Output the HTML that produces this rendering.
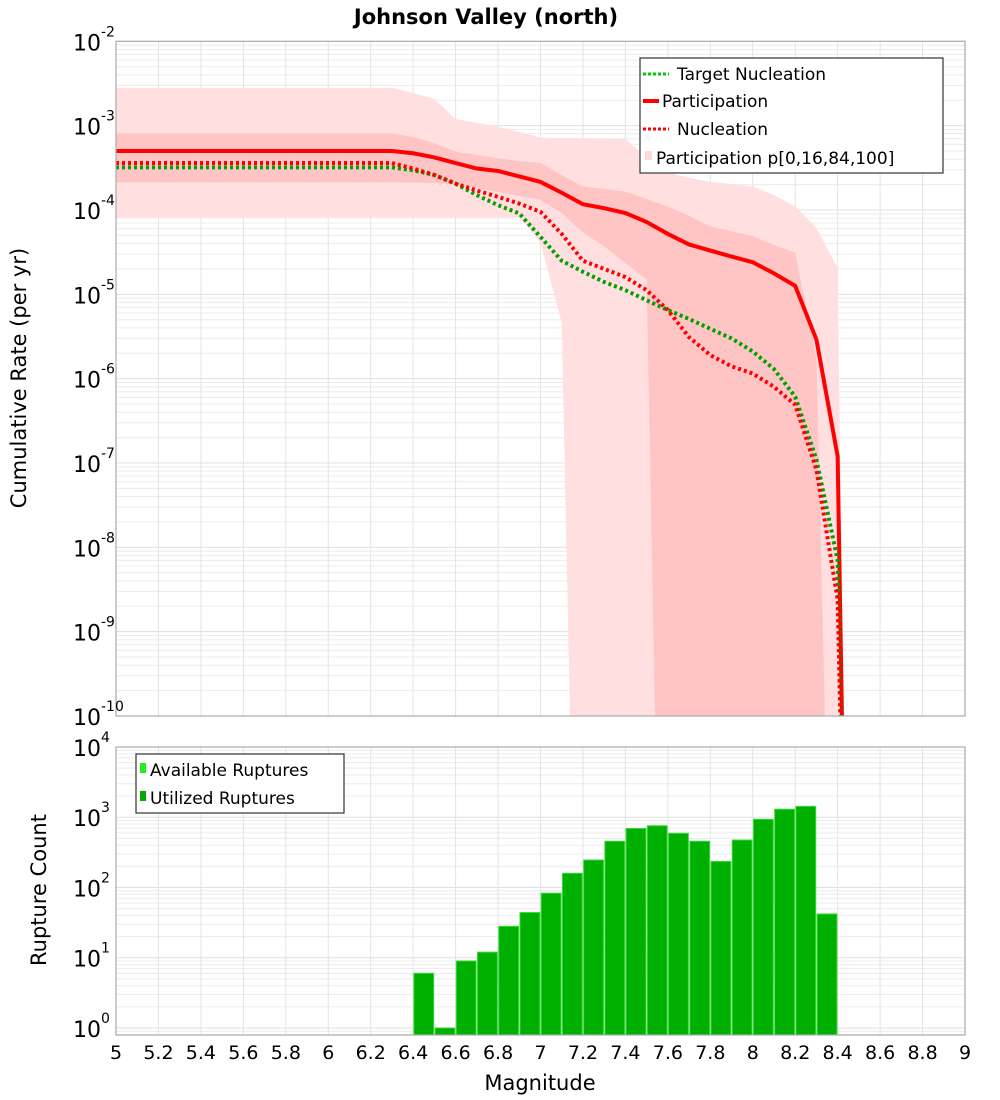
<!DOCTYPE html>
<html><head><meta charset="utf-8"><style>
html,body{margin:0;padding:0;background:#fff;}
svg{display:block;font-family:"DejaVu Sans","Liberation Sans",sans-serif;}
</style></head><body>
<svg id="chart" width="1000" height="1100" viewBox="0 0 1000 1100" xmlns="http://www.w3.org/2000/svg">
<defs>
<clipPath id="clipTop"><rect x="116" y="41.3" width="849" height="674.7"/></clipPath>
<clipPath id="clipBot"><rect x="116" y="747" width="849" height="288"/></clipPath>
</defs>
<text x="486" y="24" text-anchor="middle" font-size="21" font-weight="bold">Johnson Valley (north)</text>
<g id="topPlot"></g>
<g id="botPlot"></g>
<text transform="translate(26,378) rotate(-90)" text-anchor="middle" font-size="21">Cumulative Rate (per yr)</text>
<text transform="translate(46,890) rotate(-90)" text-anchor="middle" font-size="21">Rupture Count</text>
<text x="540" y="1090" text-anchor="middle" font-size="21">Magnitude</text>
</svg>
<script>
// ---- data ----
const mags = [5.0,5.1,5.2,5.3,5.4,5.5,5.6,5.7,5.8,5.9,6.0,6.1,6.2,6.3,6.4,6.5,6.6,6.7,6.8,6.9,7.0,7.1,7.2,7.3,7.4,7.5,7.6,7.7,7.8,7.9,8.0,8.1,8.2,8.3,8.4];
const participation = [5e-4,5e-4,5e-4,5e-4,5e-4,5e-4,5e-4,5e-4,5e-4,5e-4,5e-4,5e-4,5e-4,5e-4,4.7e-4,4.2e-4,3.6e-4,3.1e-4,2.9e-4,2.5e-4,2.15e-4,1.6e-4,1.17e-4,1.05e-4,9.2e-5,7.2e-5,5.2e-5,3.9e-5,3.3e-5,2.8e-5,2.4e-5,1.77e-5,1.26e-5,2.9e-6,1.2e-7];
const nucleation = [3.6e-4,3.6e-4,3.6e-4,3.6e-4,3.6e-4,3.6e-4,3.6e-4,3.6e-4,3.6e-4,3.6e-4,3.6e-4,3.6e-4,3.6e-4,3.6e-4,3.1e-4,2.6e-4,2.05e-4,1.7e-4,1.43e-4,1.19e-4,9.5e-5,5.2e-5,2.5e-5,2.0e-5,1.6e-5,1.12e-5,6.5e-6,3.1e-6,1.9e-6,1.4e-6,1.15e-6,8.0e-7,4.9e-7,8.3e-8,2.4e-9];
const targetNucleation = [3.2e-4,3.2e-4,3.2e-4,3.2e-4,3.2e-4,3.2e-4,3.2e-4,3.2e-4,3.2e-4,3.2e-4,3.2e-4,3.2e-4,3.2e-4,3.2e-4,2.95e-4,2.6e-4,2.05e-4,1.5e-4,1.14e-4,9.1e-5,4.8e-5,2.5e-5,1.85e-5,1.4e-5,1.12e-5,8.5e-6,6.5e-6,5.1e-6,3.9e-6,3.0e-6,2.1e-6,1.3e-6,6.1e-7,1.1e-7,7e-9];
const p100 = [2.8e-3,2.8e-3,2.8e-3,2.8e-3,2.8e-3,2.8e-3,2.8e-3,2.8e-3,2.8e-3,2.8e-3,2.8e-3,2.8e-3,2.8e-3,2.8e-3,2.44e-3,2.07e-3,1.2e-3,1.08e-3,9.7e-4,8.4e-4,7.2e-4,7.1e-4,7.1e-4,7.0e-4,7.0e-4,4.1e-4,2.8e-4,2.4e-4,2.15e-4,2.03e-4,1.9e-4,1.5e-4,1.1e-4,6.1e-5,2.06e-5];
const p0 = [8.2e-5,8.2e-5,8.2e-5,8.2e-5,8.2e-5,8.2e-5,8.2e-5,8.2e-5,8.2e-5,8.2e-5,8.2e-5,8.2e-5,8.2e-5,8.2e-5,8.2e-5,8.2e-5,8.2e-5,8.2e-5,8.2e-5,8.2e-5,4.1e-5,4.6e-6,5e-18,5e-18,5e-18,5e-18,5e-18,5e-18,5e-18,5e-18,5e-18,5e-18,5e-18,5e-18,5e-18];
const p84 = [8.1e-4,8.1e-4,8.1e-4,8.1e-4,8.1e-4,8.1e-4,8.1e-4,8.1e-4,8.1e-4,8.1e-4,8.1e-4,8.1e-4,8.1e-4,8.1e-4,7.35e-4,6.2e-4,4.9e-4,4.5e-4,4.1e-4,3.8e-4,3.6e-4,2.6e-4,1.9e-4,1.78e-4,1.65e-4,1.35e-4,1.1e-4,8.5e-5,6.4e-5,5.6e-5,4.9e-5,3.85e-5,3.1e-5,1.7e-6,5e-17];
const p16 = [2.13e-4,2.13e-4,2.13e-4,2.13e-4,2.13e-4,2.13e-4,2.13e-4,2.13e-4,2.13e-4,2.13e-4,2.13e-4,2.13e-4,2.13e-4,2.13e-4,2.12e-4,2.09e-4,2.0e-4,1.82e-4,1.64e-4,1.47e-4,1.32e-4,9.2e-5,5.4e-5,3.7e-5,2.35e-5,1.5e-5,1e-18,1e-18,1e-18,1e-18,1e-18,1e-18,1e-18,1e-18,1e-18];
const tailMag = 8.44;
const tailRate = 1e-13;
const binStarts = [6.4,6.5,6.6,6.7,6.8,6.9,7.0,7.1,7.2,7.3,7.4,7.5,7.6,7.7,7.8,7.9,8.0,8.1,8.2,8.3];
const ruptureCounts = [6,1,9,12,28,44,83,159,246,455,692,756,590,455,235,474,935,1300,1430,42];
const xTicks = ["5","5.2","5.4","5.6","5.8","6","6.2","6.4","6.6","6.8","7","7.2","7.4","7.6","7.8","8","8.2","8.4","8.6","8.8","9"];
const rateExps = [-2,-3,-4,-5,-6,-7,-8,-9,-10];
const countExps = [4,3,2,1,0];

// ---- axes ----
const X0=116, X1=965, XMIN=5, XMAX=9;
const x = m => X0 + (m-XMIN)/(XMAX-XMIN)*(X1-X0);
const TY0=41.3, TY1=716, TLMAX=-2, TLMIN=-10;
const yTop = v => { const l=Math.log10(Math.max(v,1e-30)); return TY0 + (TLMAX-l)/(TLMAX-TLMIN)*(TY1-TY0); };
const BY0=747, BY1=1035, BLMAX=4, BLMIN=-0.1;
const yBot = v => BY0 + (BLMAX-Math.log10(v))/(BLMAX-BLMIN)*(BY1-BY0);

const NS="http://www.w3.org/2000/svg";
function mk(tag, parent){ const e=document.createElementNS(NS,tag); parent.appendChild(e); return e; }
const topG=document.getElementById('topPlot'), botG=document.getElementById('botPlot');

function grid(g, y0, y1, lmin, lmax, yf, name){
  const bg=mk('rect',g); bg.setAttribute('x',X0); bg.setAttribute('y',y0); bg.setAttribute('width',X1-X0); bg.setAttribute('height',y1-y0); bg.setAttribute('fill','#fff');
  
  
  for(let d=Math.floor(lmin); d<lmax; d++){
    for(let k=1;k<10;k++){
      const v=k*Math.pow(10,d), l=Math.log10(v);
      if(l<lmin||l>lmax) continue;
      const yy=yf(v); const ln=mk('line',g);
      ln.setAttribute('x1',X0); ln.setAttribute('x2',X1); ln.setAttribute('y1',yy); ln.setAttribute('y2',yy);
      ln.setAttribute('stroke', k===1?'#e0e0e0':'#ececec'); ln.setAttribute('stroke-width',1);
      
      
    }
  }
  for(let i=1;i<xTicks.length-1;i++){
    const xx=x(parseFloat(xTicks[i])); const ln=mk('line',g);
    ln.setAttribute('x1',xx); ln.setAttribute('x2',xx); ln.setAttribute('y1',y0); ln.setAttribute('y2',y1);
    ln.setAttribute('stroke','#e4e4e4'); ln.setAttribute('stroke-width',1);
    
    
  }
}
function frame(g,y0,y1,name){
  const r=mk('rect',g); r.setAttribute('x',X0); r.setAttribute('y',y0); r.setAttribute('width',X1-X0); r.setAttribute('height',y1-y0);
  r.setAttribute('fill','none'); r.setAttribute('stroke','#aaa'); r.setAttribute('stroke-width',1.2);
  
  
}
function ylabel(g, exp, yy, name){
  const t=mk('text',g); t.setAttribute('x',101); t.setAttribute('y',yy+9); t.setAttribute('text-anchor','end'); t.setAttribute('font-size','22');
  t.textContent='10';
  
  
  const s=mk('text',g); s.setAttribute('x',101); s.setAttribute('y',yy-5); s.setAttribute('font-size','14');
  s.textContent=String(exp);
  
  
}
grid(topG,TY0,TY1,TLMIN,TLMAX,yTop,'rate');
grid(botG,BY0,BY1,BLMIN,BLMAX,yBot,'count');

function band(hi, lo, fill, name){
  const ms=mags.concat([tailMag]);
  const h=hi.concat([tailRate]), l=lo.concat([tailRate]);
  let d='M'+ms.map((m,i)=>x(m).toFixed(2)+','+yTop(h[i]).toFixed(2)).join(' L');
  for(let i=ms.length-1;i>=0;i--) d+=' L'+x(ms[i]).toFixed(2)+','+yTop(l[i]).toFixed(2);
  d+='Z';
  const p=mk('path',topG); p.setAttribute('d',d); p.setAttribute('fill',fill); p.setAttribute('clip-path','url(#clipTop)');
  
  
}
band(p100,p0,'#ffdfdf','band-p0-p100');
band(p84,p16,'#ffc5c5','band-p16-p84');

function line(vals, color, dash, name){
  const ms=mags.concat([tailMag]); const vs=vals.concat([tailRate]);
  const d='M'+ms.map((m,i)=>x(m).toFixed(2)+','+yTop(vs[i]).toFixed(2)).join(' L');
  const p=mk('path',topG); p.setAttribute('d',d); p.setAttribute('fill','none'); p.setAttribute('stroke',color);
  p.setAttribute('stroke-width',4); p.setAttribute('clip-path','url(#clipTop)');
  if(dash) p.setAttribute('stroke-dasharray',dash);
  
  
}
line(participation,'#ff0000',null,'participation-line');
line(targetNucleation,'#00a000','3,3','target-nucleation-line');
line(nucleation,'#ff0000','3,3','nucleation-line');
frame(topG,TY0,TY1,'rate');

rateExps.forEach(e=>ylabel(topG,e,yTop(Math.pow(10,e)),'rate'));

binStarts.forEach((m,i)=>{
  const r=mk('rect',botG);
  const xa=x(m)+0.7, xb=x(m+0.1)-0.7, yy=yBot(ruptureCounts[i]);
  r.setAttribute('x',xa); r.setAttribute('y',yy); r.setAttribute('width',xb-xa); r.setAttribute('height',BY1-yy);
  r.setAttribute('fill','#00b000'); r.setAttribute('stroke','#3ad83a'); r.setAttribute('stroke-width',1);
  r.setAttribute('clip-path','url(#clipBot)');
  
  
});
frame(botG,BY0,BY1,'count');
countExps.forEach(e=>ylabel(botG,e,yBot(Math.pow(10,e)),'count'));

xTicks.forEach(t=>{
  const tx=mk('text',botG); tx.setAttribute('x',x(parseFloat(t))); tx.setAttribute('y',1059); tx.setAttribute('text-anchor','middle'); tx.setAttribute('font-size','19');
  tx.textContent=t;
  
  
});

function legend(g, bx, by, bw, bh, items, name){
  const lg=mk('g',g);
  
  
  const r=mk('rect',lg); r.setAttribute('x',bx); r.setAttribute('y',by); r.setAttribute('width',bw); r.setAttribute('height',bh);
  r.setAttribute('fill','#fff'); r.setAttribute('stroke','#333'); r.setAttribute('stroke-width',1.2);
  items.forEach(it=>{
    const e=mk('g',lg);
    
    
    if(it.kind==='line'){
      const l=mk('line',e); l.setAttribute('x1',it.x1); l.setAttribute('x2',it.x2); l.setAttribute('y1',it.y-6); l.setAttribute('y2',it.y-6);
      l.setAttribute('stroke',it.color); l.setAttribute('stroke-width',it.dash?3:4); if(it.dash) l.setAttribute('stroke-dasharray',it.dash);
    } else {
      const s=mk('rect',e); s.setAttribute('x',it.x1); s.setAttribute('y',it.y-13); s.setAttribute('width',it.x2-it.x1); s.setAttribute('height',it.h||11); s.setAttribute('fill',it.color);
    }
    const t=mk('text',e); t.setAttribute('x',it.tx); t.setAttribute('y',it.y); t.setAttribute('font-size','17'); t.textContent=it.label;
  });
}
legend(topG,640,58,303,115,[
  {kind:'line',x1:643,x2:669,y:80,color:'#00cc00',dash:'3,2',tx:677,label:'Target Nucleation'},
  {kind:'line',x1:643,x2:659,y:107,color:'#ff0000',tx:662,label:'Participation'},
  {kind:'line',x1:643,x2:669,y:135,color:'#ff0000',dash:'3,2',tx:677,label:'Nucleation'},
  {kind:'rect',x1:645,x2:652,y:164,h:9,color:'#ffdada',tx:656,label:'Participation p[0,16,84,100]'}
],'rate-legend');
legend(botG,136,754,208,59,[
  {kind:'rect',x1:140,x2:146,y:776,h:10,color:'#22ee22',tx:150,label:'Available Ruptures'},
  {kind:'rect',x1:140,x2:146,y:804,h:10,color:'#00aa00',tx:150,label:'Utilized Ruptures'}
],'count-legend');
</script>
</body></html>
